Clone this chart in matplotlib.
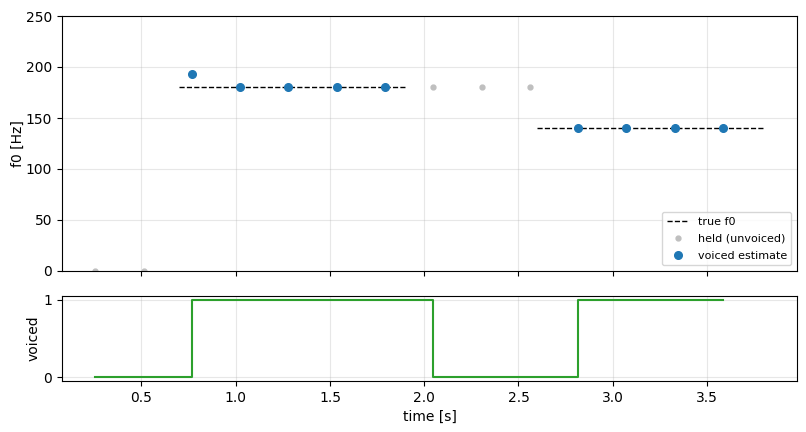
import matplotlib
matplotlib.use("Agg")
import matplotlib.pyplot as plt
import numpy as np

# frame times (s)
times = [0.256, 0.512, 0.768, 1.024, 1.280, 1.536, 1.792, 2.048, 2.304, 2.560,
         2.816, 3.072, 3.328, 3.584]
# f0 estimates (Hz), held values where unvoiced
f0_est = [0, 0, 193, 180, 180, 180, 180, 180, 180, 180, 140, 140, 140, 140]
voiced = [0, 0, 1, 1, 1, 1, 1, 0, 0, 0, 1, 1, 1, 1]

# true f0 segments: (start, end, f0)
true_starts = [0.7, 2.6]
true_ends = [1.9, 3.8]
true_f0 = [180, 140]

t = np.array(times)
f = np.array(f0_est, dtype=float)
v = np.array(voiced, dtype=bool)

fig = plt.figure(figsize=(8.06, 4.32), dpi=100)
ax1 = fig.add_axes([62/806, 1-271/432, (797-62)/806, (271-16)/432])
ax2 = fig.add_axes([62/806, 1-381/432, (797-62)/806, (381-296)/432], sharex=ax1)

for i, (s, e, val) in enumerate(zip(true_starts, true_ends, true_f0)):
    ax1.plot([s, e], [val, val], 'k--', lw=1, label='true f0' if i == 0 else None)
ax1.plot(t[~v], f[~v], 'o', color='#bfbfbf', ms=3.5, label='held (unvoiced)')
ax1.plot(t[v], f[v], 'o', color='#1f77b4', ms=5.5, label='voiced estimate')
ax1.set_ylim(0, 250)
ax1.set_ylabel('f0 [Hz]', labelpad=1)
ax1.grid(True, alpha=0.3)
ax1.legend(loc='lower right', fontsize=8, labelspacing=0.65)
plt.setp(ax1.get_xticklabels(), visible=False)

ax2.step(t, v.astype(int), where='post', color='#2ca02c', lw=1.5)
ax2.set_yticks([0, 1])
ax2.set_ylabel('voiced', labelpad=2)
ax2.set_xlabel('time [s]')
ax2.grid(True, alpha=0.3)

fig.savefig('out.png', dpi=100)
